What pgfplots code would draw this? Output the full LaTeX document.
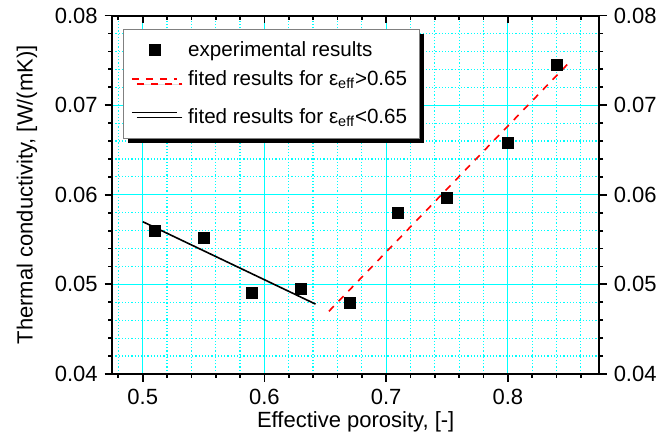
\documentclass[border=0pt]{standalone}
\usepackage{pgfplots}
\pgfplotsset{compat=1.18}
\usepackage{fontspec}
\setmainfont{Liberation Sans}
\usetikzlibrary{shadows}
\definecolor{gridcyan}{RGB}{0,255,255}
\definecolor{fitred}{RGB}{255,0,0}

\pgfplotsset{
  common/.style={
    scale only axis, width=243.4pt, height=179.2pt,
    xmin=0.475, xmax=0.875, ymin=0.04, ymax=0.08,
    xtick={0.5,0.6,0.7,0.8},
    minor xtick={0.48,0.52,0.54,0.56,0.58,0.62,0.64,0.66,0.68,0.72,0.74,0.76,0.78,0.82,0.84,0.86},
    ytick={0.04,0.05,0.06,0.07,0.08},
    minor y tick num=4,
    scaled y ticks=false, scaled x ticks=false,
    major tick length=3.8pt, minor tick length=2pt,
    every tick/.style={black, line width=0.9pt},
    axis line style={line width=1pt},
    tick label style={font=\fontsize{11}{13}\selectfont},
    label style={font=\fontsize{11}{13}\selectfont},
    /pgf/number format/assume math mode=true,
    xticklabel style={/pgf/number format/fixed, /pgf/number format/fixed zerofill, /pgf/number format/precision=1},
    yticklabel style={/pgf/number format/fixed, /pgf/number format/fixed zerofill, /pgf/number format/precision=2},
  },
}

\begin{document}
\begin{tikzpicture}
\begin{axis}[
  common,
  tick align=outside,
  xtick pos=bottom, ytick pos=both,
  grid=both,
  major grid style={gridcyan, line width=0.6pt},
  minor grid style={gridcyan, dash pattern=on 0.6pt off 1pt, line width=0.6pt},
  xlabel={Effective porosity, [-]},
  ylabel={Thermal conductivity, [W/(mK)]},
  xlabel shift=-3pt,
  ylabel shift=2pt,
  legend image code/.code={\draw[mark repeat=2, mark phase=2, #1] plot coordinates {(0cm,0cm) (0.4cm,0cm) (0.8cm,0cm)};},
  legend cell align=left,
  legend style={
    at={(0.0214,0.963)}, anchor=north west,
    draw=gray, fill=white,
    general shadow={fill=black, shadow xshift=2.5pt, shadow yshift=-2.5pt},
    font=\fontsize{10.3}{12}\selectfont,
    inner xsep=4pt, inner ysep=4pt, row sep=1.5pt,
    /tikz/every odd column/.append style={column sep=3pt},
  },
]
\addplot[only marks, mark=square*, mark size=2.75pt, black] coordinates {
  (0.51,0.0560) (0.55,0.0552) (0.59,0.0490) (0.63,0.0495) (0.67,0.0479)
  (0.71,0.0580) (0.75,0.0596) (0.80,0.0658) (0.84,0.0745)
};
\addlegendentry{experimental results}
\addplot[fitred, line width=0.8pt, dash pattern=on 3.5pt off 3.5pt] coordinates {
  (0.653,0.0470) (0.85,0.0747)
};
\addlegendentry{fited results for ε\textsubscript{eff}>0.65}
\addplot[black, line width=0.8pt] coordinates {
  (0.50,0.0570) (0.642,0.0478)
};
\addlegendentry{\rule[-4pt]{0pt}{16pt}fited results for ε\textsubscript{eff}<0.65}
\end{axis}
\begin{axis}[
  common,
  axis x line*=top, axis y line*=right,
  tick align=inside,
  xticklabels={},
  ytick style={draw=none},
  minor ytick={},
  yticklabel style={xshift=3.8pt},
]
\end{axis}
\pgfresetboundingbox
\path[use as bounding box] (-56.15pt,-35pt) rectangle (279.35pt,187pt);
\end{tikzpicture}
\end{document}
